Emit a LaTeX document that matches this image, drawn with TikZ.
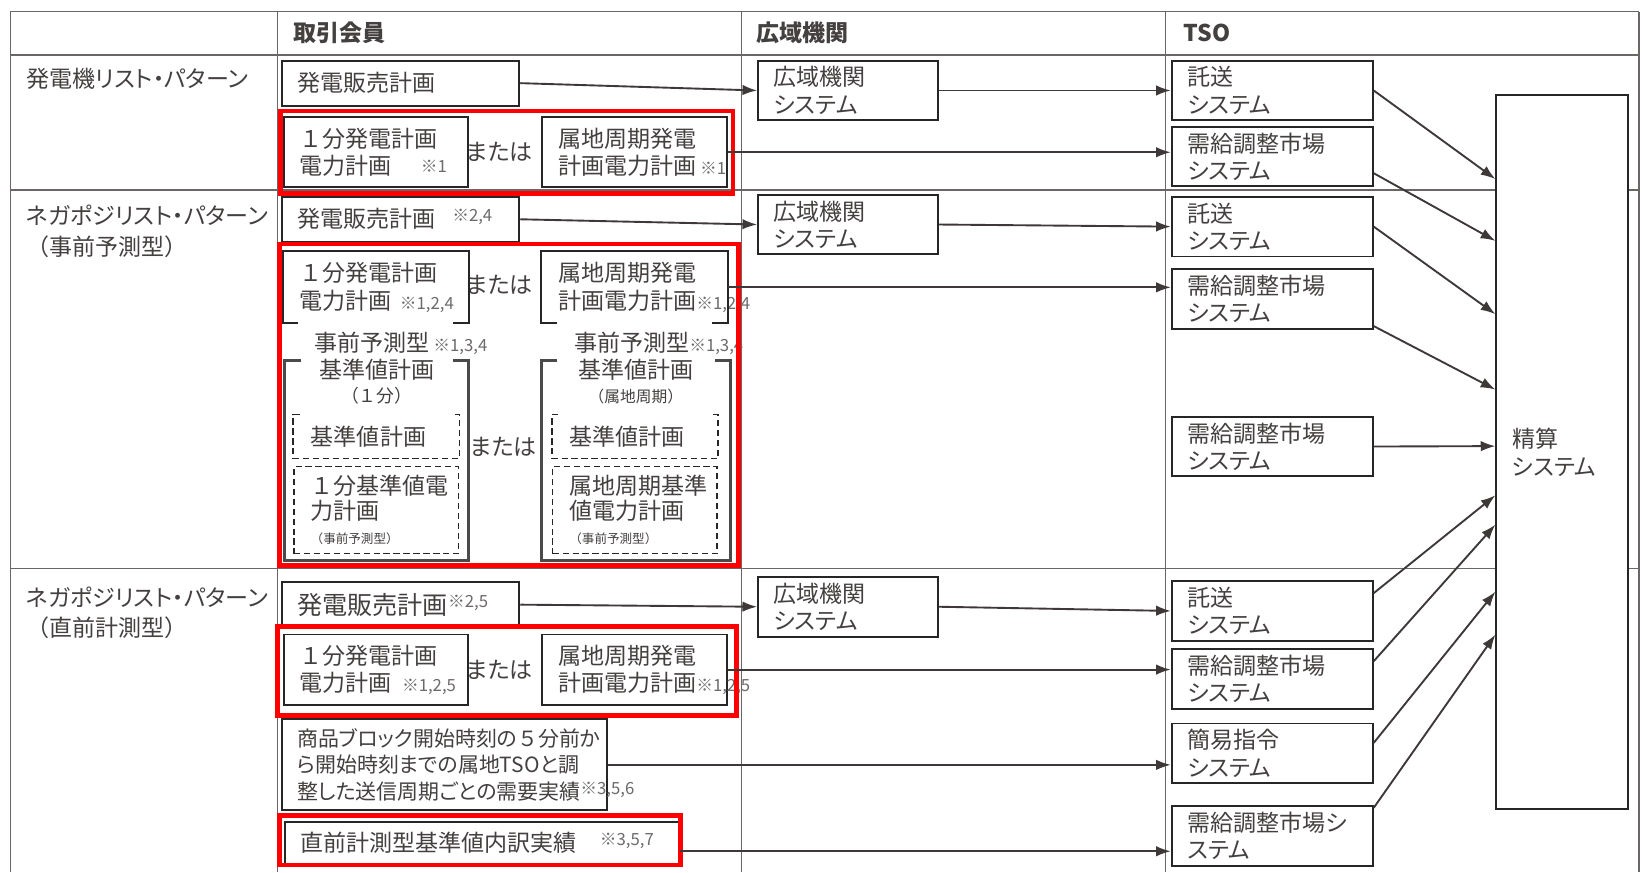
\documentclass[tikz,border=0pt]{standalone}
\usepackage{fontspec}
\setmainfont{Noto Sans CJK JP}[RawFeature=+palt]
\newfontfamily\fw{Noto Sans CJK JP}
\usetikzlibrary{arrows.meta}
\definecolor{txtc}{HTML}{454040}
\definecolor{notec}{HTML}{6E6A6A}
\definecolor{boxc}{HTML}{262626}
\definecolor{gridc}{HTML}{6B6666}
\definecolor{arrc}{HTML}{3F3838}
\definecolor{grpc}{HTML}{4A4A4A}
\newcommand{\nt}[1]{{\fontsize{16}{17}\selectfont\color{notec}※#1}}

\begin{document}
\begin{tikzpicture}
  [x=1pt,y=-1pt,
   every node/.style={text=txtc,font=\fontsize{22}{26}\selectfont},
   lbl/.style={anchor=west,inner sep=0pt,align=left},
   hdr/.style={lbl,font=\fontsize{22}{26}\selectfont\bfseries},
   plan/.style={draw=boxc,line width=1.8pt,anchor=north west,align=left,inner xsep=15pt,inner ysep=1pt},
   sellbox/.style={plan,text width=197pt,minimum height=43pt},
   genbox/.style={plan,text width=146pt,minimum height=67pt},
   occbox/.style={plan,text width=142pt,minimum height=57pt},
   tsobox/.style={plan,text width=162pt,minimum height=57pt},
   grpbox/.style={anchor=north west,inner sep=0pt,minimum height=191pt},
   dbox/.style={plan,draw=none,inner xsep=16pt,text width=125pt,font=\fontsize{22}{23.5}\selectfont},
   tabline/.style={draw=gridc,line width=1.3pt},
   grpline/.style={draw=grpc,line width=3pt},
   dline/.style={draw=boxc,line width=1.4pt,dash pattern=on 6pt off 3.5pt},
   redbox/.style={draw=red,line width=4.5pt},
   arr/.style={draw=arrc,line width=1.8pt,-{Latex[length=14pt,width=10pt]}}]
  \useasboundingbox (0,0) rectangle (1568,833);
  \fill[white] (0,0) rectangle (1568,833);

  % table
  \foreach \y in {11,52.5,181.5,543}
    \draw[tabline] (10,\y) -- (1565,\y);
  \foreach \x in {10,265,708,1113,1565}
    \draw[tabline] (\x,11) -- (\x,833);

  \node[hdr] (h1) at (280,31) {取引会員};
  \node[hdr] (h2) at (722,31) {広域機関};
  \node[hdr] (h3) at (1130,31) {TSO};

  \node[lbl] (r1) at (25,75) {発電機リスト・パターン};
  \node[lbl,font=\fontsize{22}{29}\selectfont] (r2) at (25,221) {ネガポジリスト・パターン\\{\fw （}事前予測型{\fw ）}};
  \node[lbl,font=\fontsize{22}{29}\selectfont] (r3) at (25,585) {ネガポジリスト・パターン\\{\fw （}直前計測型{\fw ）}};

  % 発電機リスト・パターン
  \node[sellbox] (sell1) at (268,57) {発電販売計画};
  \node[genbox] (gen1) at (270,111) {{\fw １}分発電計画\\電力計画\hspace{28pt}\rlap{\raisebox{2pt}{\nt{1}}}};
  \node[lbl,anchor=center] (or1) at (477,145) {または};
  \node[genbox] (zok1) at (517,111) {属地周期発電\\計画電力計画\rlap{\,\nt{1}}};
  \node[occbox] (occ1) at (723,57) {広域機関\\システム};
  \node[tsobox] (tak1) at (1118,57) {託送\\システム};
  \node[tsobox] (jk1) at (1118,120) {需給調整市場\\システム};

  % ネガポジ（事前予測型）
  \node[sellbox] (sell2) at (268,187) {発電販売計画\hspace{16pt}\raisebox{6pt}{\nt{2,4}}};
  \node[genbox,draw=none] (gen2) at (270,240) {{\fw １}分発電計画\\電力計画\hspace{8pt}\rlap{\nt{1,2,4}}};
  \node[lbl,anchor=center] (or2) at (477,272) {または};
  \node[genbox,draw=none] (zok2) at (517,240) {属地周期発電\\計画電力計画\rlap{\nt{1,2,4}}};
  \foreach \n in {gen2,zok2}
    \draw[boxc,line width=1.8pt] ([xshift=15pt]\n.south west) -- (\n.south west) -- (\n.north west)
      -- (\n.north east) -- (\n.south east) -- ([xshift=-15pt]\n.south east);

  \node[lbl] (pre1) at (300,328) {事前予測型\,\nt{1,3,4}};
  \node[lbl] (pre2) at (548,328) {事前予測型\nt{1,3,4}};
  \node[grpbox,minimum width=175pt] (grp1) at (272,344) {};
  \node[grpbox,minimum width=180pt] (grp2) at (517,344) {};
  \foreach \n in {grp1,grp2}
    \draw[grpline] ([xshift=15pt]\n.north west) -- (\n.north west) -- (\n.south west)
      -- (\n.south east) -- (\n.north east) -- ([xshift=-15pt]\n.north east);
  \node[anchor=north,inner sep=0pt,align=center,font=\fontsize{22}{23}\selectfont] (grp1t) at ([yshift=1pt]grp1.north)
    {基準値計画\\{\fw\fontsize{17}{18}\selectfont（１分）}};
  \node[anchor=north,inner sep=0pt,align=center,font=\fontsize{22}{23}\selectfont] (grp2t) at ([yshift=1pt]grp2.north)
    {基準値計画\\{\fw\fontsize{15}{16}\selectfont（属地周期）}};

  \node[dbox,minimum height=40pt] (base1) at (280,396) {基準値計画};
  \node[dbox,minimum height=40pt] (base2) at (527,396) {基準値計画};
  \foreach \n in {base1,base2}
    \draw[dline] ([xshift=6pt]\n.north west) -- (\n.north west) -- (\n.south west)
      -- (\n.south east) -- (\n.north east) -- ([xshift=-6pt]\n.north east);
  \node[dbox,dline,minimum height=83pt] (dpow1) at (280,445)
    {{\fw １}分基準値電\\力計画\\{\fw\fontsize{12}{13}\selectfont（事前予測型）}};
  \node[dbox,dline,minimum height=83pt] (dpow2) at (527,445)
    {属地周期基準\\値電力計画\\{\fw\fontsize{12}{13}\selectfont（事前予測型）}};
  \node[lbl,anchor=center] (or3) at (481,427) {または};

  \node[occbox] (occ2) at (723,185) {広域機関\\システム};
  \node[tsobox] (tak2) at (1118,187) {託送\\システム};
  \node[tsobox] (jk2) at (1118,256) {需給調整市場\\システム};
  \node[tsobox] (jk3) at (1118,397) {需給調整市場\\システム};

  % ネガポジ（直前計測型）
  \node[sellbox,font=\fontsize{24}{28}\selectfont] (sell3) at (268,555) {発電販売計画\raisebox{6pt}{\nt{2,5}}};
  \node[genbox] (gen3) at (270,605) {{\fw １}分発電計画\\電力計画\hspace{10pt}\rlap{\nt{1,2,5}}};
  \node[lbl,anchor=center] (or4) at (477,640) {または};
  \node[genbox] (zok3) at (517,605) {属地周期発電\\計画電力計画\rlap{\nt{1,2,5}}};
  \node[plan,text width=281pt,minimum height=87pt,font=\fontsize{20}{25}\selectfont] (shohin) at (268,686)
    {商品ブロック開始時刻の{\fw ５}分前か\\ら開始時刻までの属地TSOと調\\整した送信周期ごとの需要実績\rlap{\raisebox{4pt}{\nt{3,5,6}}}};
  \node[plan,text width=347pt,minimum height=40pt] (choku) at (271,784)
    {直前計測型基準値内訳実績\hspace{22pt}\raisebox{6pt}{\nt{3,5,7}}};

  \node[occbox] (occ3) at (723,550) {広域機関\\システム};
  \node[tsobox] (tak3) at (1118,554) {託送\\システム};
  \node[tsobox] (jk4) at (1118,619) {需給調整市場\\システム};
  \node[tsobox] (kan1) at (1118,690) {簡易指令\\システム};
  \node[tsobox] (jk5) at (1118,769) {需給調整市場シ\\ステム};

  \node[plan,text width=96pt,minimum height=682pt,fill=white] (seisan) at (1428,90) {精算\\システム};

  % red marks
  \draw[redbox] (268,106) rectangle (700,185);
  \draw[redbox] (267,233) rectangle (705,540);
  \draw[redbox] (265,598) rectangle (703,683);
  \draw[redbox] (267,779) rectangle (650,826);

  % arrows
  \foreach \from/\to in {sell1/occ1,occ1/tak1,sell2/occ2,occ2/tak2,sell3/occ3,occ3/tak3}
    \draw[arr] (\from.east) -- (\to.west);
  \foreach \from/\to/\dy in {zok1/jk1/0,zok2/jk2/0,zok3/jk4/0,shohin/kan1/0,choku/jk5/-8}
    \draw[arr] ([yshift=\dy pt]\from.east) -- ([yshift=\dy pt]\from.east -| \to.west);
  \foreach \from/\a/\b in {tak1/0/-81,jk1/-16/-140,tak2/0/-210,jk2/-26/-282,jk3/0/-336,
                           tak3/17/-383,jk4/17/-411,kan1/10/-475,jk5/27/-516}
    \draw[arr] ([yshift=\a pt]\from.east) -- ([yshift=\b pt]seisan.north west);

\end{tikzpicture}
\end{document}
